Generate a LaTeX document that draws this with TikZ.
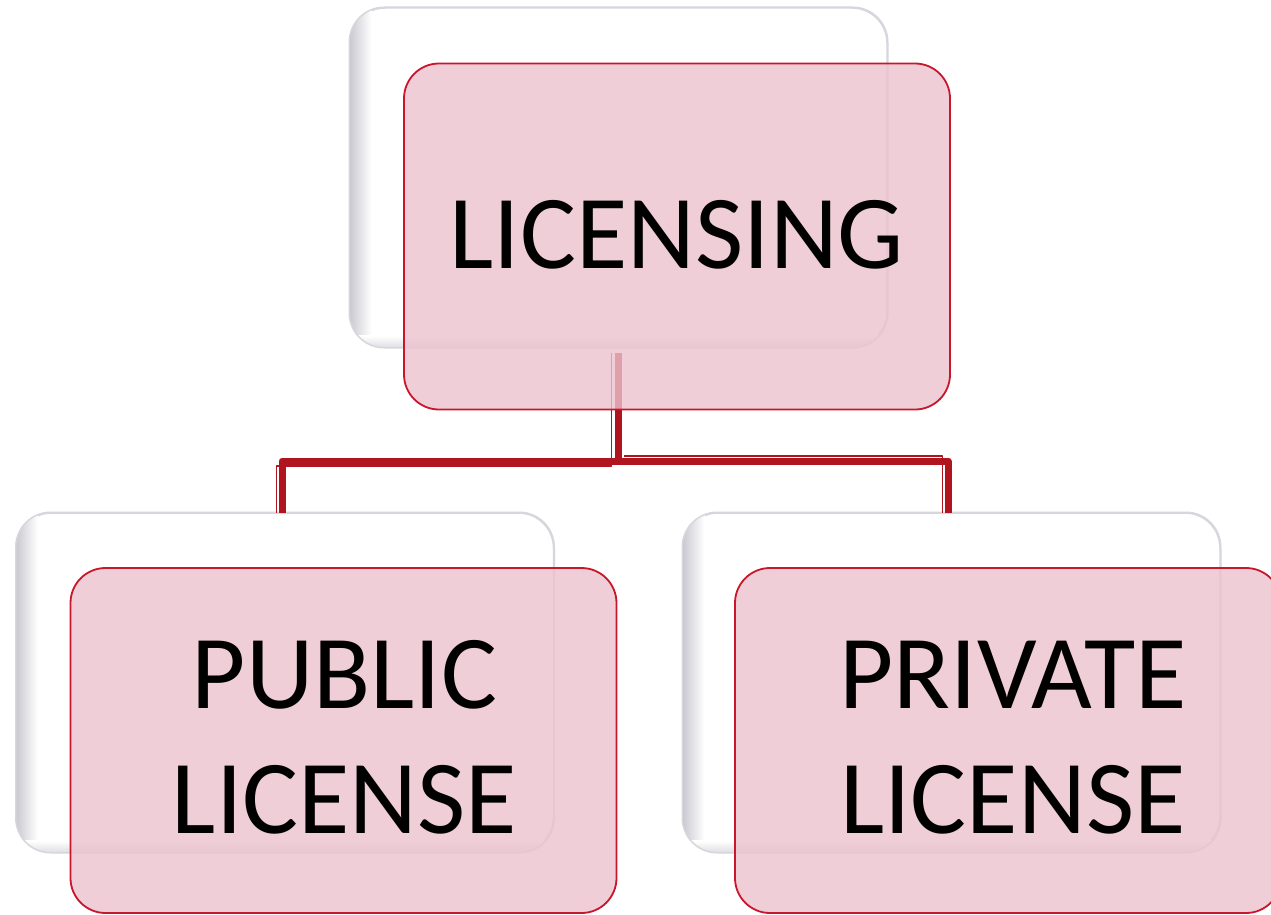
\documentclass[tikz,border=0pt]{standalone}
\usepackage{fontspec}
\setmainfont{Carlito}
\definecolor{frontfill}{RGB}{236,194,206}
\definecolor{frontline}{RGB}{200,22,44}
\definecolor{conn}{RGB}{176,21,31}
\definecolor{backline}{RGB}{214,214,220}
\definecolor{backshade}{RGB}{200,200,208}
\tikzset{
  backbox/.style={draw=backline, line width=1.5pt, fill=white, rounded corners=35pt,
    minimum width=537pt, minimum height=339pt, inner sep=0pt},
  frontbox/.style={draw=frontline, line width=1.8pt, fill=frontfill, fill opacity=0.8,
    draw opacity=1, rounded corners=35pt, minimum width=546pt, minimum height=346pt, inner sep=0pt},
  lbl/.style={anchor=base, font=\fontsize{105}{125}\selectfont, inner sep=0pt, text=black},
  thickconn/.style={draw=conn, line width=7pt, line join=round},
  thinconn/.style={draw=conn, line width=1.5pt, line join=round},
}
\newcommand{\backshading}[1]{%
  \begin{scope}
    \clip[rounded corners=35pt] (#1.south west) rectangle (#1.north east);
    \shade[left color=backshade, right color=white] (#1.south west) rectangle ([xshift=22pt]#1.north west);
    \shade[bottom color=backshade!60, top color=white] (#1.south west) rectangle ([yshift=12pt]#1.south east);
  \end{scope}
  \draw[backline, line width=1.5pt, rounded corners=35pt] (#1.south west) rectangle (#1.north east);
}
\begin{document}
\begin{tikzpicture}[x=1pt,y=-1pt]
\useasboundingbox[fill=white] (0,0) rectangle (1271,915);
% back boxes
\node[backbox] (tb) at (618.5,177.5) {};
\node[backbox] (lb) at (285,682.5) {};
\node[backbox] (rb) at (951.5,682.5) {};
\backshading{tb}
\backshading{lb}
\backshading{rb}
% connector points
\coordinate (vtop) at (618,353);
\coordinate (vjoin) at (618,461);
\coordinate (ljoin) at (282,461);
\coordinate (rjoin) at (948,461);
\coordinate (lend) at (282,513);
\coordinate (rend) at (948,513);
\draw[thickconn] (vtop) -- (vjoin) -- (ljoin) -- (lend);
\draw[thickconn] (vjoin) -- (rjoin) -- (rend);
\draw[thinconn] ([xshift=-6.5pt]vtop) -- ([xshift=-6.5pt,yshift=-5pt]vjoin) -- ([xshift=-5.5pt,yshift=-5pt]ljoin) -- ([xshift=-5.5pt]lend);
\draw[thinconn] ([xshift=6pt,yshift=5pt]vjoin) -- ([xshift=-5.5pt,yshift=5pt]rjoin) -- ([xshift=-5.5pt]rend);
% front boxes
\node[frontbox] (tf) at (677,236.5) {};
\node[frontbox, minimum height=345pt] (lf) at (343.5,740.5) {};
\node[frontbox, minimum height=345pt] (rf) at (1008,740.5) {};
% labels
\node[lbl] (t1) at (677,268) {LICENSING};
\node[lbl] (l1) at (344.5,708) {PUBLIC};
\node[lbl] (l2) at (344.5,833) {LICENSE};
\node[lbl] (r1) at (1013,708) {PRIVATE};
\node[lbl] (r2) at (1013,833) {LICENSE};
\end{tikzpicture}
\end{document}
